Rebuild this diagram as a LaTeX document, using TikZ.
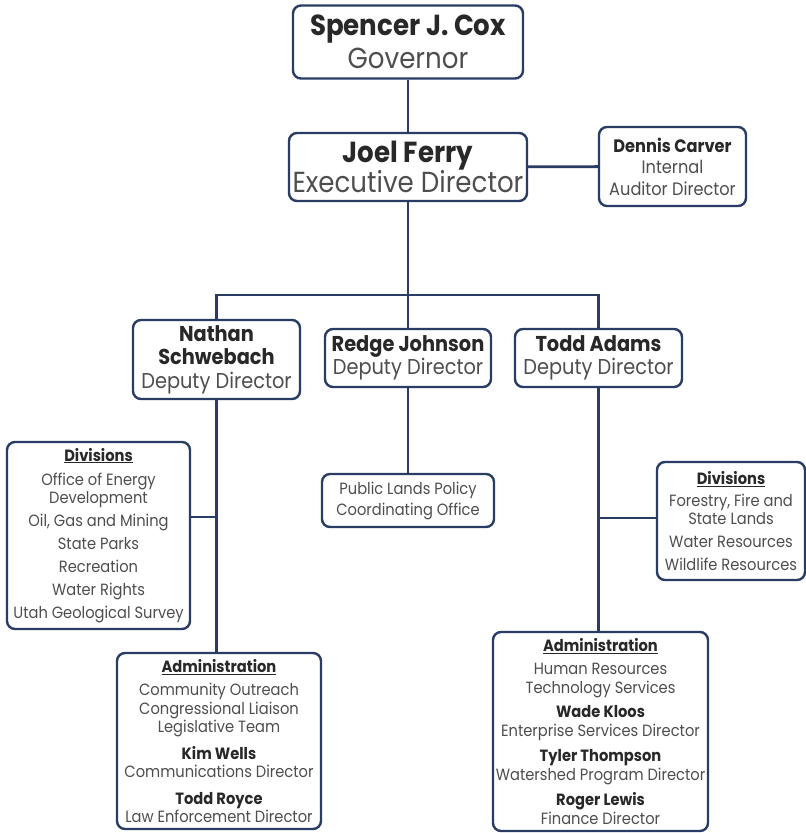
\documentclass[tikz,border=0pt]{standalone}
\usepackage{fontspec}
\setmainfont{Poppins}[FakeStretch=0.9]
\usetikzlibrary{positioning,calc}

\definecolor{navy}{RGB}{40,60,100}
\definecolor{txtgray}{RGB}{78,78,78}
\definecolor{namegray}{RGB}{40,40,40}

\newcommand{\nm}[1]{{\bfseries\color{namegray}#1}}
\newcommand{\hd}[1]{{\bfseries\color{namegray}\underline{#1}}}

\begin{document}
\begin{tikzpicture}[
  x=1pt,
  y=-1pt,
  box/.style={draw=navy, line width=2.4pt, rounded corners=8pt, fill=white, align=center, text=txtgray, inner sep=1pt},
  big/.style={box, font=\fontsize{29}{33}\selectfont},
  mid/.style={box, font=\fontsize{21.5}{23.5}\selectfont},
  small/.style={box, font=\fontsize{16.3}{18.5}\selectfont},
  link/.style={draw=navy, line width=2.8pt}
]

\fill[white] (0,0) rectangle (806,833);
\useasboundingbox (0,0) rectangle (806,833);

\node[big, minimum width=230, minimum height=73] (gov) at (408,42) {\nm{Spencer J. Cox}\\Governor};
\node[big, font=\fontsize{29}{29}\selectfont, minimum width=238, minimum height=68] (exec) at (408,167) {\nm{Joel Ferry}\\Executive Director};
\node[small, font=\fontsize{18}{21.5}\selectfont, minimum width=147, minimum height=79] (carver) at (672.5,166.5) {\nm{Dennis Carver}\\Internal\\Auditor Director};

\node[mid, minimum width=167, minimum height=79] (nathan) at (216.5,359.5) {\nm{Nathan}\\\nm{Schwebach}\\Deputy Director};
\node[mid, minimum width=166, minimum height=58] (redge) at (408,358) {\nm{Redge Johnson}\\Deputy Director};
\node[mid, minimum width=167, minimum height=58] (todd) at (598.5,358) {\nm{Todd Adams}\\Deputy Director};

\node[small, font=\fontsize{16.3}{21}\selectfont, minimum width=172, minimum height=53] (public) at (408,500.5) {Public Lands Policy\\Coordinating Office};

\node[small, minimum width=183, minimum height=187] (divL) at (98.5,535.5)
  {\hd{Divisions}\\[5.5pt]Office of Energy\\Development\\[4.5pt]Oil, Gas and Mining\\[4.5pt]State Parks\\[4.5pt]Recreation\\[4.5pt]Water Rights\\[4.5pt]Utah Geological Survey};
\node[small, minimum width=148, minimum height=118] (divR) at (731,521)
  {\hd{Divisions}\\[3.5pt]Forestry, Fire and\\State Lands\\[4.5pt]Water Resources\\[4.5pt]Wildlife Resources};

\node[small, minimum width=204, minimum height=176] (admL) at (219,741)
  {\hd{Administration}\\[5pt]Community Outreach\\Congressional Liaison\\Legislative Team\\[8pt]\nm{Kim Wells}\\Communications Director\\[8pt]\nm{Todd Royce}\\Law Enforcement Director};
\node[small, minimum width=215, minimum height=199] (admR) at (600.5,731.5)
  {\hd{Administration}\\[5pt]Human Resources\\Technology Services\\[6pt]\nm{Wade Kloos}\\Enterprise Services Director\\[7pt]\nm{Tyler Thompson}\\Watershed Program Director\\[7pt]\nm{Roger Lewis}\\Finance Director};

\coordinate (bar) at (408,295);
\coordinate (jL) at (216.5,517);
\coordinate (jR) at (598.5,518);

\draw[link] (gov) -- (exec);
\draw[link] (exec) -- (carver);
\draw[link] (exec.south) -- (bar);
\draw[link] (nathan.north) |- (bar) -| (todd.north);
\draw[link] (bar) -- (redge.north);
\draw[link] (redge) -- (public);
\draw[link] (nathan.south) -- (nathan.south |- admL.north);
\draw[link] (jL) -- (jL -| divL.east);
\draw[link] (todd.south) -- (todd.south |- admR.north);
\draw[link] (jR) -- (jR -| divR.west);

\end{tikzpicture}
\end{document}
